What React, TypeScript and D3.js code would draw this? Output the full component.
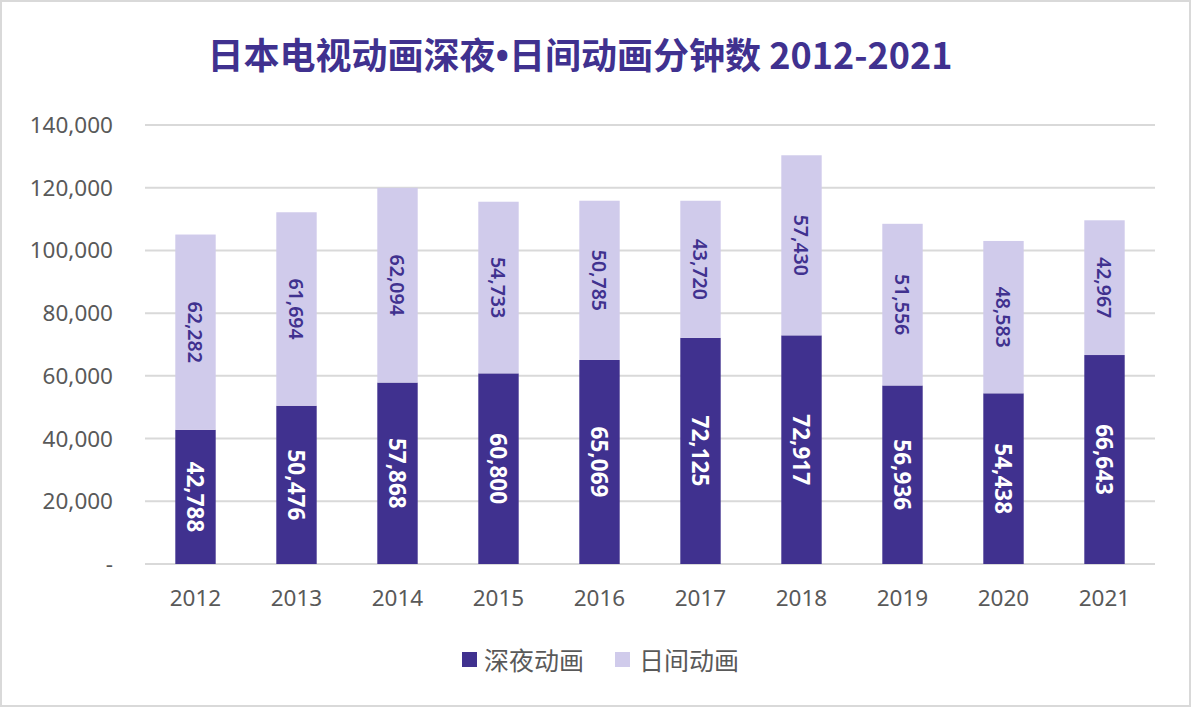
import { useMemo } from 'react';
import * as d3 from 'd3';

const WIDTH = 1192;
const HEIGHT = 708;
const MARGIN = { top: 125, right: 37, bottom: 144, left: 145 };

const years = ['2012', '2013', '2014', '2015', '2016', '2017', '2018', '2019', '2020', '2021'];
const lateNight = [42788, 50476, 57868, 60800, 65069, 72125, 72917, 56936, 54438, 66643];
const daytime = [62282, 61694, 62094, 54733, 50785, 43720, 57430, 51556, 48583, 42967];
const seriesNames = ['深夜动画', '日间动画'];
const yTicks = [0, 20000, 40000, 60000, 80000, 100000, 120000, 140000];

const DARK = '#40318f';
const LIGHT = '#d0cbeb';
const NUM_FONT = '"Noto Sans", "DejaVu Sans", sans-serif';
const CJK_FONT = '"Noto Sans CJK SC", sans-serif';

type Row = { year: string; late: number; day: number };

export default function App() {
  const boundsWidth = WIDTH - MARGIN.left - MARGIN.right;
  const boundsHeight = HEIGHT - MARGIN.top - MARGIN.bottom;

  const rows: Row[] = years.map((year, i) => ({ year, late: lateNight[i], day: daytime[i] }));

  const xScale = useMemo(
    () => d3.scaleBand().domain(years).range([0, boundsWidth]).paddingInner(0.6).paddingOuter(0.3),
    [boundsWidth]
  );
  const yScale = useMemo(
    () => d3.scaleLinear().domain([0, 140000]).range([boundsHeight, 0]),
    [boundsHeight]
  );

  // stack the two series
  const stacked = d3.stack<Row>().keys(['late', 'day'])(rows);
  const fmt = d3.format(',');
  const bw = xScale.bandwidth();

  return (
    <svg
      width={WIDTH}
      height={HEIGHT}
      style={{ position: 'absolute', left: 0, top: 0, background: '#fff' }}
    >
      <rect x={1} y={1} width={WIDTH - 3} height={HEIGHT - 3} fill="#fff" stroke="#d9d9d9" strokeWidth={2} />

      <text
        x={580}
        y={69}
        textAnchor="middle"
        fontFamily={CJK_FONT}
        fontWeight="bold"
        fontSize={36}
        fill={DARK}
      >
        日本电视动画深夜<tspan fontFamily={NUM_FONT}>•</tspan>日间动画分钟数 2012-2021
      </text>

      <g transform={`translate(${MARGIN.left},${MARGIN.top})`}>
        {/* gridlines + y labels */}
        {yTicks.map((t) => (
          <g key={t} transform={`translate(0,${yScale(t)})`}>
            <line x1={0} x2={boundsWidth} stroke="#d9d9d9" strokeWidth={2} />
            <text
              x={-32}
              y={8}
              textAnchor="end"
              fontFamily={NUM_FONT}
              fontSize={22.5}
              fill="#595959"
            >
              {t === 0 ? '-' : fmt(t)}
            </text>
          </g>
        ))}

        {/* bars */}
        {stacked.map((layer, li) => (
          <g key={layer.key}>
            {layer.map((d) => {
              const x = xScale(d.data.year) || 0;
              const y0 = yScale(d[0]);
              const y1 = yScale(d[1]);
              return (
                <rect
                  key={d.data.year}
                  x={x}
                  y={y1}
                  width={bw}
                  height={y0 - y1}
                  fill={li === 0 ? DARK : LIGHT}
                />
              );
            })}
          </g>
        ))}

        {/* value labels */}
        {stacked.map((layer, li) => (
          <g key={'lbl' + layer.key}>
            {layer.map((d) => {
              const cx = (xScale(d.data.year) || 0) + bw / 2;
              const cy = (yScale(d[0]) + yScale(d[1])) / 2;
              const value = d[1] - d[0];
              return (
                <text
                  key={d.data.year}
                  transform={`translate(${cx},${cy}) rotate(90)`}
                  textAnchor="middle"
                  dominantBaseline="central"
                  fontFamily={NUM_FONT}
                  fontWeight={li === 0 ? 'bold' : 600}
                  fontSize={li === 0 ? 22.5 : 19.5}
                  fill={li === 0 ? '#ffffff' : DARK}
                >
                  {fmt(value)}
                </text>
              );
            })}
          </g>
        ))}

        {/* x labels */}
        {years.map((y) => (
          <text
            key={y}
            x={(xScale(y) || 0) + bw / 2}
            y={boundsHeight + 42}
            textAnchor="middle"
            fontFamily={NUM_FONT}
            fontSize={22.5}
            fill="#595959"
          >
            {y}
          </text>
        ))}
      </g>

      {/* legend */}
      <g fontFamily={CJK_FONT} fontSize={25} fill="#595959">
        <rect x={462} y={652} width={15} height={15} fill={DARK} />
        <text x={484} y={670}>{seriesNames[0]}</text>
        <rect x={615} y={652} width={15} height={15} fill={LIGHT} />
        <text x={639} y={670}>{seriesNames[1]}</text>
      </g>
    </svg>
  );
}
